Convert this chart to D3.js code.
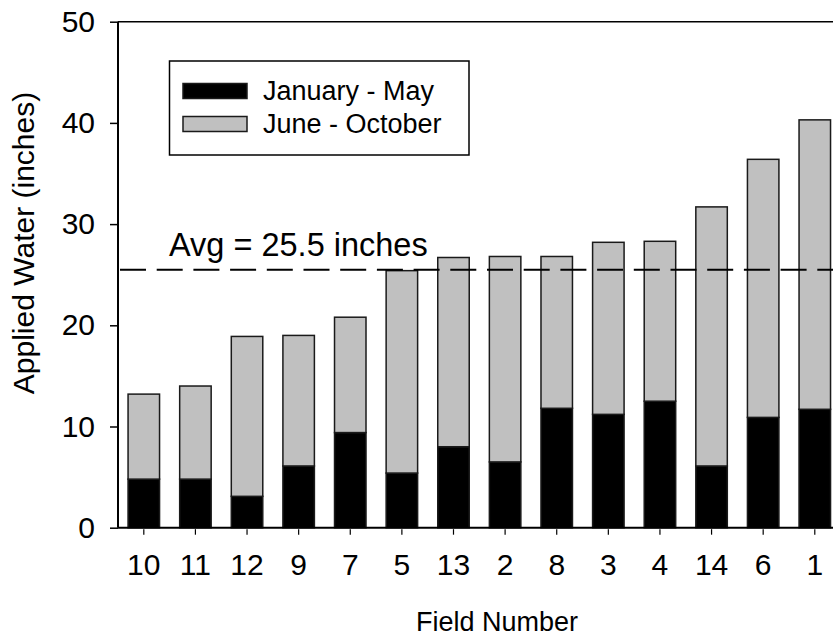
<!DOCTYPE html>
<html>
<head>
<meta charset="utf-8">
<script src="https://cdn.jsdelivr.net/npm/d3@7"></script>
<style>
  html, body { margin: 0; padding: 0; background: #fff; }
  svg { display: block; font-family: "Liberation Sans", Arial, Helvetica, sans-serif; }
</style>
</head>
<body>
<svg id="chart" width="833" height="640"></svg>
<script>
// Field numbers, ordered by total applied water
const fields = ["10", "11", "12", "9", "7", "5", "13", "2", "8", "3", "4", "14", "6", "1"];
// Applied water (inches) per season
const janMay  = [4.8, 4.8, 3.1, 6.1, 9.4, 5.4, 8.0, 6.5, 11.8, 11.2, 12.5, 6.1, 10.9, 11.7];
const juneOct = [8.4, 9.2, 15.8, 12.9, 11.4, 20.0, 18.7, 20.3, 15.0, 17.0, 15.8, 25.6, 25.5, 28.6];
const seriesNames = ["January - May", "June - October"];
const seriesColors = ["#000000", "#c0c0c0"];
const yTicks = [0, 10, 20, 30, 40, 50];
const avgValue = 25.5;
const avgLabel = "Avg = 25.5 inches";

const svg = d3.select("#chart");

const x = d3.scaleBand()
  .domain(fields)
  .range([118, 840.6])
  .paddingInner(0.39)
  .paddingOuter(0.195);

const y = d3.scaleLinear().domain([0, 50]).range([527.7, 21.7]);

// Stack the two seasons per field
const rows = fields.map((f, i) => ({ field: f, jan: janMay[i], jun: juneOct[i] }));
const stacked = d3.stack().keys(["jan", "jun"])(rows);

const layers = svg.append("g").selectAll("g")
  .data(stacked)
  .join("g")
  .attr("fill", (d, i) => seriesColors[i]);

layers.selectAll("rect")
  .data(d => d)
  .join("rect")
  .attr("x", d => x(d.data.field))
  .attr("width", x.bandwidth())
  .attr("y", d => y(d[1]))
  .attr("height", d => y(d[0]) - y(d[1]))
  .attr("stroke", "#1a1a1a")
  .attr("stroke-width", 1.5);

// Average line
svg.append("line")
  .attr("x1", 120).attr("x2", 833)
  .attr("y1", y(avgValue)).attr("y2", y(avgValue))
  .attr("stroke", "#000")
  .attr("stroke-width", 2)
  .attr("stroke-dasharray", "26,10.7");

svg.append("text")
  .attr("x", 169)
  .attr("y", y(avgValue) - 14)
  .attr("font-size", 32.5)
  .text(avgLabel);

// Left axis
const yAxis = d3.axisLeft(y).tickValues(yTicks).tickSize(8).tickPadding(15);
const gy = svg.append("g").attr("transform", "translate(118,0)").call(yAxis);
gy.select(".domain").attr("stroke-width", 2).attr("d", `M0,${y(50)}V${y(0)}`);
gy.selectAll(".tick line").attr("stroke-width", 1.5);
gy.selectAll(".tick text").attr("font-size", 30).attr("font-family", "inherit").attr("fill", "#000");

// Top frame line
svg.append("line")
  .attr("x1", 118).attr("x2", 833)
  .attr("y1", y(50)).attr("y2", y(50))
  .attr("stroke", "#000").attr("stroke-width", 1.5);

// Bottom axis
const xAxis = d3.axisBottom(x).tickSize(7).tickPadding(19);
const gx = svg.append("g").attr("transform", `translate(0,${y(0)})`).call(xAxis);
gx.select(".domain").attr("stroke-width", 2).attr("d", "M118,0H833");
gx.selectAll(".tick line").attr("stroke-width", 1.2).attr("y1", 1.5);
gx.selectAll(".tick text").attr("font-size", 30).attr("font-family", "inherit").attr("fill", "#000");

// Axis titles
svg.append("text")
  .attr("x", 497).attr("y", 631)
  .attr("text-anchor", "middle")
  .attr("font-size", 27)
  .text("Field Number");

svg.append("text")
  .attr("transform", "translate(34,243) rotate(-90)")
  .attr("text-anchor", "middle")
  .attr("font-size", 30)
  .text("Applied Water (inches)");

// Legend
const legend = svg.append("g");
legend.append("rect")
  .attr("x", 169.5).attr("y", 61)
  .attr("width", 299.5).attr("height", 94)
  .attr("fill", "#fff").attr("stroke", "#000").attr("stroke-width", 1.5);

seriesNames.forEach((name, i) => {
  const cy = 91 + i * 33;
  legend.append("rect")
    .attr("x", 183).attr("y", cy - 7.5)
    .attr("width", 64).attr("height", 15)
    .attr("fill", seriesColors[i])
    .attr("stroke", "#1a1a1a").attr("stroke-width", 1.5);
  legend.append("text")
    .attr("x", 263).attr("y", cy)
    .attr("dy", "0.35em")
    .attr("font-size", 27)
    .text(name);
});
</script>
</body>
</html>
